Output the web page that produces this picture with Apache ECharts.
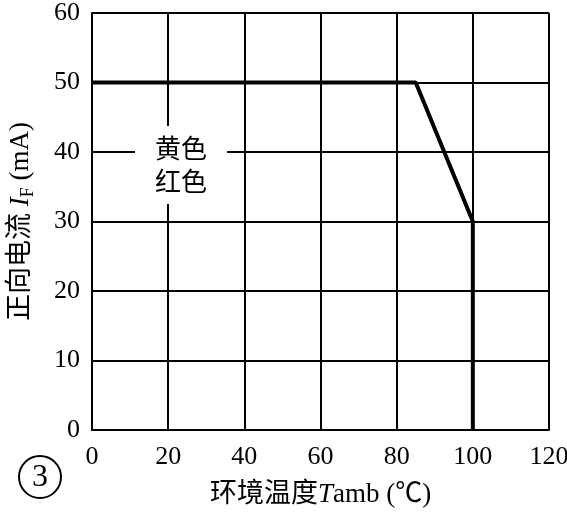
<!DOCTYPE html>
<html>
<head>
<meta charset="utf-8">
<script src="https://cdn.jsdelivr.net/npm/echarts@6/dist/echarts.min.js"></script>
<style>
  html, body { margin: 0; padding: 0; background: #fff; }
  #main { width: 567px; height: 516px; }
</style>
</head>
<body>
<div id="main"></div>
<script>
// 正向电流 - 环境温度 降额曲线
var tempX = [0, 85, 100, 100];
var currentY = [50, 50, 30, 0];
var xTicks = [0, 20, 40, 60, 80, 100, 120];
var yTicks = [0, 10, 20, 30, 40, 50, 60];
var colorNames = ['黄色', '红色'];

var serif = "'Liberation Serif', 'Noto Sans CJK SC', serif";

var lineData = tempX.map(function (x, i) { return [x, currentY[i]]; });

var option = {
    backgroundColor: '#fff',
    animation: false,
    grid: {
        left: 92,
        right: 18,
        top: 13,
        bottom: 86,
        outerBoundsMode: 'none',
        containLabel: false
    },
    xAxis: {
        type: 'value',
        min: xTicks[0],
        max: xTicks[xTicks.length - 1],
        interval: 20,
        name: '环境温度{i|T}amb (℃)',
        nameLocation: 'middle',
        nameMoveOverlap: false,
        nameGap: 51,
        nameTextStyle: {
            color: '#000',
            fontSize: 27,
            fontFamily: serif,
            verticalAlign: 'top',
            rich: {
                i: { fontStyle: 'italic', fontSize: 27, fontFamily: serif, color: '#000' }
            }
        },
        axisLine: { lineStyle: { color: '#000', width: 2 } },
        axisTick: { show: false },
        axisLabel: { color: '#000', fontSize: 26, fontFamily: serif, margin: 14 },
        splitLine: { show: true, lineStyle: { color: '#000', width: 2 } }
    },
    yAxis: {
        type: 'value',
        min: yTicks[0],
        max: yTicks[yTicks.length - 1],
        interval: 10,
        name: '正向电流 {i|I}{sub|F} (mA)',
        nameLocation: 'middle',
        nameRotate: 90,
        nameMoveOverlap: false,
        nameGap: 55,
        nameTextStyle: {
            color: '#000',
            fontSize: 27,
            fontFamily: serif,
            lineHeight: 32,
            verticalAlign: 'bottom',
            rich: {
                i: { fontStyle: 'italic', fontSize: 27, fontFamily: serif, color: '#000', lineHeight: 32 },
                sub: { fontSize: 18, fontFamily: serif, color: '#000', verticalAlign: 'bottom', lineHeight: 30 }
            }
        },
        axisLine: { show: true, lineStyle: { color: '#000', width: 2 } },
        axisTick: { show: false },
        axisLabel: { color: '#000', fontSize: 26, fontFamily: serif, margin: 12 },
        splitLine: { show: true, lineStyle: { color: '#000', width: 2 } }
    },
    graphic: [
        {
            type: 'text',
            left: 135,
            top: 126,
            z: 10,
            style: {
                text: colorNames.join('\n'),
                fill: '#000',
                font: "26px 'Noto Sans CJK SC'",
                lineHeight: 33,
                align: 'center',
                backgroundColor: '#fff',
                padding: [6, 20, 6, 20]
            }
        },
        {
            type: 'circle',
            shape: { cx: 40, cy: 477, r: 21 },
            style: { fill: 'none', stroke: '#000', lineWidth: 2 }
        },
        {
            type: 'text',
            x: 40,
            y: 478,
            style: {
                text: '3',
                fill: '#000',
                font: "32px 'Liberation Serif'",
                align: 'center',
                verticalAlign: 'middle'
            }
        }
    ],
    series: [
        {
            type: 'line',
            data: lineData,
            symbol: 'none',
            z: 5,
            lineStyle: { color: '#000', width: 4 }
        }
    ]
};

var myChart = echarts.init(document.getElementById('main'));
myChart.setOption(option, true);
</script>
</body>
</html>
